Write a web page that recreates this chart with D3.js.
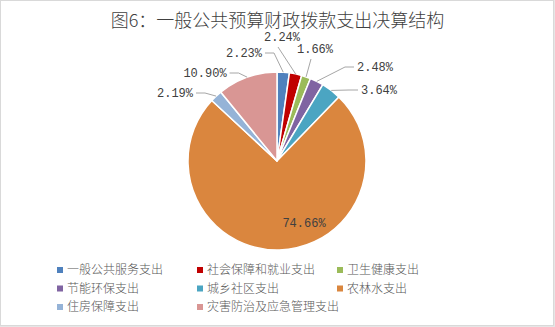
<!DOCTYPE html>
<html>
<head>
<meta charset="utf-8">
<script src="https://cdn.jsdelivr.net/npm/d3@7/dist/d3.min.js"></script>
<style>
  html, body { margin: 0; padding: 0; background: #fff; }
  svg { display: block; }
</style>
</head>
<body>
<svg id="chart" width="555" height="327"></svg>
<script>
// Expenditure categories, in drawing order (clockwise from 12 o'clock)
const categories = [
  "一般公共服务支出", "社会保障和就业支出", "卫生健康支出", "节能环保支出",
  "城乡社区支出", "农林水支出", "住房保障支出", "灾害防治及应急管理支出"
];
// Share of total (%)
const shares = [2.23, 2.24, 1.66, 2.48, 3.64, 74.66, 2.19, 10.90];
const colors = ["#4F81BD", "#C00000", "#9BBB59", "#8064A2", "#4BA5C2", "#DA863E", "#95B3D7", "#D99694"];

// Where each percentage label sits, relative to the pie centre
const labelOffsets = [[-33, -108], [5, -124], [38, -112], [98, -94], [102, -71], [27, 62], [-102, -68], [-72, -88]];

const W = 555, H = 327;
const cx = 277, cy = 161, R = 89;

const svg = d3.select("#chart");

// outer frame
svg.append("rect").attr("x", 0.5).attr("y", 0.5).attr("width", 553).attr("height", 325)
  .attr("fill", "none").attr("stroke", "#d9d9d9").attr("stroke-width", 1);
svg.append("path").attr("d", "M554.5,0V327M0,326.5H555").attr("stroke", "#e6e6e6").attr("stroke-width", 1);

// title
svg.append("text")
  .attr("x", W / 2).attr("y", 27)
  .attr("text-anchor", "middle")
  .attr("font-family", "'Noto Sans CJK SC', sans-serif")
  .attr("font-size", 18)
  .attr("font-weight", 300)
  .attr("fill", "#404040")
  .text("图6：一般公共预算财政拨款支出决算结构");

const data = categories.map((c, i) => ({ name: c, value: shares[i], color: colors[i], off: labelOffsets[i] }));

const pie = d3.pie().value(d => d.value).sort(null);
const arcs = pie(data);
const arc = d3.arc().innerRadius(0).outerRadius(R);

const g = svg.append("g").attr("transform", `translate(${cx},${cy})`);

g.selectAll("path.slice").data(arcs).enter().append("path")
  .attr("class", "slice")
  .attr("d", arc)
  .attr("fill", d => d.data.color)
  .attr("stroke", "#fff")
  .attr("stroke-width", 1.5)
  .attr("stroke-linejoin", "round");

const fmt = v => v.toFixed(2) + "%";
const labelFont = "'Liberation Mono', 'DejaVu Sans Mono', monospace";
const charW = 7.2;

// leader lines for labels outside the pie
arcs.forEach(d => {
  const [dx, dy] = d.data.off;
  const mid = (d.startAngle + d.endAngle) / 2;
  const ax = Math.sin(mid) * R, ay = -Math.cos(mid) * R;
  if (Math.hypot(dx, dy) < R) return; // label drawn inside the slice
  const halfW = fmt(d.data.value).length * charW / 2;
  let pts;
  if (dx >= 0 && dx < 45) {
    // label stacked above its slice: straight line from under the text to the rim
    pts = [[dx - 4, dy + 10], [ax, ay]];
  } else {
    // label to the side: short horizontal tail, then down to the rim
    const side = dx > ax ? -1 : 1;
    const x0 = dx + side * (halfW + 3);
    const x1 = x0 + side * 9;
    pts = [[x0, dy], [x1, dy], [ax, ay]];
  }
  g.append("polyline")
    .attr("points", pts.map(p => p.join(",")).join(" "))
    .attr("fill", "none")
    .attr("stroke", "#a6a6a6")
    .attr("stroke-width", 1);
});

g.selectAll("text.lbl").data(arcs).enter().append("text")
  .attr("class", "lbl")
  .attr("x", d => d.data.off[0])
  .attr("y", d => d.data.off[1])
  .attr("dy", "0.35em")
  .attr("text-anchor", "middle")
  .attr("font-family", labelFont)
  .attr("font-size", 12)
  .attr("fill", "#404040")
  .text(d => fmt(d.data.value));

// legend: three columns
const legX = [57, 197, 337], legY = [270, 288.5, 307];
const leg = svg.append("g");
data.forEach((d, i) => {
  const col = i % 3, row = Math.floor(i / 3);
  const x = legX[col], y = legY[row];
  leg.append("rect").attr("x", x).attr("y", y - 3).attr("width", 6).attr("height", 6).attr("fill", d.color);
  leg.append("text")
    .attr("x", x + 10).attr("y", y).attr("dy", "0.36em")
    .attr("font-family", "'Noto Sans CJK SC', sans-serif")
    .attr("font-size", 12)
    .attr("font-weight", 300)
    .attr("fill", "#595959")
    .text(d.name);
});
</script>
</body>
</html>
